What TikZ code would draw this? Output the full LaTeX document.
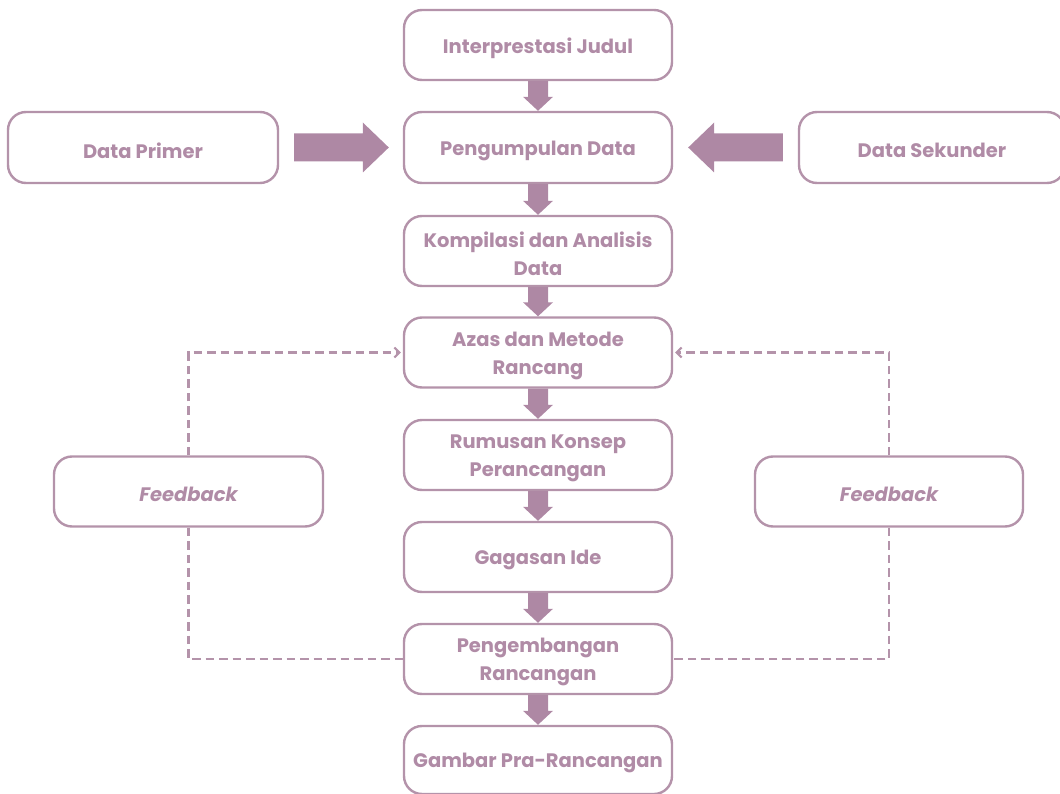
\documentclass[tikz,border=0pt]{standalone}
\usepackage{fontspec}
\setmainfont{Poppins}
\usetikzlibrary{arrows.meta,calc}
\definecolor{mauve}{RGB}{174,136,164}
\definecolor{mauveline}{RGB}{180,147,170}
\definecolor{mauvetext}{RGB}{176,139,166}
\tikzset{
  box/.style={draw=mauveline, line width=2.4pt, rounded corners=18pt, fill=white,
    minimum width=268pt, minimum height=70pt, inner sep=0pt},
  txt/.style={align=center, text=mauvetext, inner sep=0pt,
    font=\fontsize{19.5}{28}\selectfont\bfseries},
  fbtxt/.style={txt, font=\fontsize{19.5}{28}\selectfont\bfseries\itshape},
  dashline/.style={draw=mauveline, line width=2.4pt, dash pattern=on 8.5pt off 5pt},
  dashtip/.style={-{Straight Barb[length=5pt,width=10pt,line width=2pt]}},
  fatarrow/.style={fill=mauve, draw=none}
}
% \bx{name}{x,y}{text}{box options}{text style}
\newcommand{\bx}[5]{%
  \node[box,#4] (#1) at (#2) {};
  \node[#5] (#1-t) at ($(#1.center)+(0,3)$) {#3};}
\newcommand{\downarrowbox}[2]{%
  \fill[fatarrow] ($(#1.south)+(-10,0)$) -- ($(#2.north)+(-10,-14)$) -- ($(#2.north)+(-15,-14)$)
    -- (#2.north) -- ($(#2.north)+(15,-14)$) -- ($(#2.north)+(10,-14)$) -- ($(#1.south)+(10,0)$) -- cycle;}
\begin{document}
\begin{tikzpicture}[x=1pt,y=-1pt]
\useasboundingbox (0,0) rectangle (1060,794);
\bx{interp}{538,45}{Interprestasi Judul}{}{txt}
\bx{kumpul}{538,147.5}{Pengumpulan Data}{minimum height=71pt}{txt}
\bx{kompil}{538,251}{Kompilasi dan Analisis\\Data}{}{txt}
\bx{azas}{538,352.5}{Azas dan Metode\\Rancang}{}{txt}
\bx{rumus}{538,455}{Rumusan Konsep\\Perancangan}{}{txt}
\bx{gagas}{538,557}{Gagasan Ide}{}{txt}
\bx{kembang}{538,659}{Pengembangan\\Rancangan}{}{txt}
\bx{gambar}{538,760}{Gambar Pra-Rancangan}{minimum height=68pt}{txt}
\bx{primer}{143,147.5}{Data Primer}{minimum width=270pt, minimum height=71pt}{txt}
\bx{sekunder}{932,147.5}{Data Sekunder}{minimum width=266pt, minimum height=71pt}{txt}
\bx{fbL}{188.5,491.5}{Feedback}{minimum width=269pt}{fbtxt}
\bx{fbR}{889,491.5}{Feedback}{}{fbtxt}
% vertical fat arrows
\downarrowbox{interp}{kumpul}
\downarrowbox{kumpul}{kompil}
\downarrowbox{kompil}{azas}
\downarrowbox{azas}{rumus}
\downarrowbox{rumus}{gagas}
\downarrowbox{gagas}{kembang}
\downarrowbox{kembang}{gambar}
% horizontal fat arrows
\coordinate (pL) at ($(primer.east)+(15,0)$);
\coordinate (tipL) at ($(kumpul.west)+(-14,0)$);
\fill[fatarrow] ($(pL)+(0,-14)$) -- ($(tipL)+(-26,-14)$) -- ($(tipL)+(-26,-25)$) -- (tipL)
  -- ($(tipL)+(-26,25)$) -- ($(tipL)+(-26,14)$) -- ($(pL)+(0,14)$) -- cycle;
\coordinate (pR) at ($(sekunder.west)+(-15,0)$);
\coordinate (tipR) at ($(kumpul.east)+(15,0)$);
\fill[fatarrow] ($(pR)+(0,-14)$) -- ($(tipR)+(26,-14)$) -- ($(tipR)+(26,-25)$) -- (tipR)
  -- ($(tipR)+(26,25)$) -- ($(tipR)+(26,14)$) -- ($(pR)+(0,14)$) -- cycle;
% dashed feedback loops
\draw[dashline, dashtip] (fbL.north) |- ($(azas.west)+(-2,0)$);
\draw[dashline] (fbL.south) |- (kembang.west);
\draw[dashline, dashtip] (fbR.north) |- ($(azas.east)+(2,0)$);
\draw[dashline] (fbR.south) |- (kembang.east);
\end{tikzpicture}
\end{document}
